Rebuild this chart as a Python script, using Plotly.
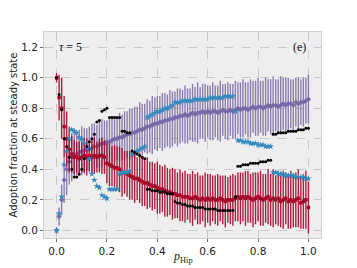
import plotly.graph_objects as go

p_hip = [round(i * 0.01, 2) for i in range(101)]

red_mean = [1.00, 0.87, 0.80, 0.68, 0.60, 0.53, 0.50, 0.48, 0.48, 0.47, 0.48,
            0.49, 0.48, 0.49, 0.48, 0.49, 0.48, 0.49, 0.49, 0.48, 0.44,
            0.43, 0.42, 0.41, 0.41, 0.40, 0.38, 0.38, 0.37, 0.36, 0.35,
            0.34, 0.34, 0.33, 0.32, 0.31, 0.31, 0.30, 0.29, 0.29, 0.28,
            0.27, 0.27, 0.26, 0.25, 0.25, 0.24, 0.24, 0.23, 0.23, 0.22,
            0.22, 0.22, 0.21, 0.21, 0.22, 0.21, 0.20, 0.21, 0.20, 0.21,
            0.20, 0.21, 0.20, 0.20, 0.21, 0.20, 0.19, 0.20, 0.20, 0.20,
            0.21, 0.22, 0.21, 0.22, 0.21, 0.22, 0.21, 0.20, 0.21, 0.22,
            0.21, 0.20, 0.21, 0.22, 0.20, 0.21, 0.20, 0.21, 0.19, 0.20,
            0.21, 0.19, 0.20, 0.19, 0.20, 0.21, 0.18, 0.19, 0.20, 0.15]

red_err = [0.03, 0.15, 0.20, 0.20, 0.18, 0.15, 0.12, 0.11, 0.10, 0.11, 0.10,
           0.11, 0.12, 0.10, 0.11, 0.12, 0.10, 0.11, 0.12, 0.11, 0.13,
           0.14, 0.13, 0.15, 0.14, 0.15, 0.16, 0.14, 0.15, 0.16, 0.15,
           0.16, 0.14, 0.15, 0.16, 0.15, 0.17, 0.15, 0.16, 0.15, 0.17,
           0.16, 0.15, 0.17, 0.16, 0.15, 0.17, 0.16, 0.15, 0.17, 0.16,
           0.17, 0.15, 0.16, 0.18, 0.15, 0.17, 0.16, 0.15, 0.18, 0.16,
           0.17, 0.15, 0.16, 0.17, 0.15, 0.16, 0.17, 0.15, 0.16, 0.17,
           0.15, 0.16, 0.17, 0.16, 0.18, 0.17, 0.16, 0.18, 0.17, 0.16,
           0.18, 0.17, 0.16, 0.18, 0.17, 0.19, 0.16, 0.18, 0.17, 0.19,
           0.17, 0.18, 0.19, 0.17, 0.18, 0.19, 0.17, 0.18, 0.19, 0.17]

purple_mean = [0.00, 0.09, 0.20, 0.33, 0.40, 0.45, 0.48, 0.50, 0.50, 0.51, 0.52,
               0.52, 0.53, 0.53, 0.54, 0.55, 0.55, 0.56, 0.57, 0.57, 0.58,
               0.58, 0.59, 0.60, 0.60, 0.61, 0.61, 0.62, 0.63, 0.63, 0.64,
               0.64, 0.65, 0.66, 0.66, 0.67, 0.68, 0.68, 0.69, 0.70, 0.70,
               0.71, 0.71, 0.72, 0.72, 0.73, 0.73, 0.74, 0.74, 0.75, 0.75,
               0.76, 0.75, 0.76, 0.77, 0.76, 0.77, 0.77, 0.78, 0.77, 0.78,
               0.77, 0.78, 0.78, 0.77, 0.78, 0.79, 0.78, 0.78, 0.79, 0.78,
               0.79, 0.80, 0.79, 0.80, 0.80, 0.79, 0.80, 0.81, 0.80, 0.81,
               0.81, 0.80, 0.81, 0.82, 0.81, 0.82, 0.82, 0.81, 0.82, 0.83,
               0.82, 0.83, 0.83, 0.82, 0.84, 0.83, 0.84, 0.84, 0.85, 0.86]

purple_err = [0.02, 0.06, 0.10, 0.15, 0.17, 0.15, 0.16, 0.15, 0.14, 0.15, 0.16,
              0.15, 0.14, 0.15, 0.16, 0.15, 0.14, 0.15, 0.16, 0.15, 0.14,
              0.15, 0.16, 0.15, 0.14, 0.16, 0.15, 0.16, 0.15, 0.17, 0.16,
              0.17, 0.16, 0.18, 0.17, 0.16, 0.18, 0.17, 0.19, 0.17, 0.18,
              0.17, 0.19, 0.18, 0.17, 0.19, 0.18, 0.17, 0.19, 0.18, 0.17,
              0.19, 0.18, 0.17, 0.19, 0.18, 0.20, 0.17, 0.18, 0.19, 0.17,
              0.18, 0.19, 0.17, 0.18, 0.20, 0.17, 0.18, 0.19, 0.17, 0.18,
              0.19, 0.17, 0.18, 0.19, 0.17, 0.18, 0.19, 0.17, 0.18, 0.19,
              0.17, 0.18, 0.19, 0.17, 0.18, 0.19, 0.17, 0.18, 0.19, 0.17,
              0.18, 0.17, 0.16, 0.17, 0.16, 0.17, 0.15, 0.16, 0.15, 0.16]

blue_vals = [0.00, 0.11, 0.22, 0.43, 0.52, 0.60, 0.66, 0.65, 0.64, 0.61, 0.60,
             0.57, 0.54, 0.47, 0.37, 0.33, 0.29, 0.28, 0.23, 0.22, 0.21,
             0.27, 0.27, 0.27, 0.27, 0.37, 0.38, 0.38, 0.38, 0.39, 0.50,
             0.51, 0.52, 0.53, 0.54, 0.55, 0.74, 0.75, 0.76, 0.77, 0.78,
             0.78, 0.79, 0.80, 0.80, 0.81, 0.82, 0.84, 0.84, 0.84, 0.85,
             0.85, 0.85, 0.85, 0.85, 0.86, 0.86, 0.86, 0.86, 0.86, 0.86,
             0.87, 0.87, 0.87, 0.87, 0.87, 0.87, 0.88, 0.88, 0.88, 0.88,
             0.78, 0.59, 0.59, 0.58, 0.58, 0.58, 0.57, 0.57, 0.57, 0.56,
             0.56, 0.56, 0.55, 0.55, 0.55, 0.38, 0.38, 0.37, 0.37, 0.37,
             0.36, 0.36, 0.36, 0.36, 0.35, 0.35, 0.35, 0.35, 0.34, 0.34]

black_vals = [1.00, 0.89, 0.79, 0.60, 0.55, 0.48, 0.40, 0.35, 0.35, 0.37, 0.40,
              0.47, 0.55, 0.58, 0.60, 0.63, 0.71, 0.72, 0.78, 0.79, 0.80,
              0.74, 0.74, 0.74, 0.74, 0.74, 0.65, 0.65, 0.64, 0.64, 0.52,
              0.51, 0.50, 0.49, 0.48, 0.47, 0.27, 0.27, 0.26, 0.26, 0.26,
              0.25, 0.25, 0.25, 0.24, 0.24, 0.24, 0.19, 0.18, 0.18, 0.17,
              0.17, 0.16, 0.16, 0.16, 0.15, 0.15, 0.15, 0.15, 0.14, 0.14,
              0.14, 0.14, 0.14, 0.13, 0.13, 0.13, 0.13, 0.13, 0.13, 0.13,
              0.22, 0.42, 0.42, 0.43, 0.43, 0.43, 0.44, 0.44, 0.44, 0.44,
              0.45, 0.45, 0.45, 0.46, 0.46, 0.63, 0.63, 0.64, 0.64, 0.64,
              0.64, 0.65, 0.65, 0.65, 0.65, 0.66, 0.66, 0.66, 0.67, 0.67]

x_ticks = [0.0, 0.2, 0.4, 0.6, 0.8, 1.0]
y_ticks = [0.0, 0.2, 0.4, 0.6, 0.8, 1.0, 1.2]

RED = "#A60628"
PURPLE = "#7A68A6"
BLUE = "#348ABD"

fig = go.Figure()
fig.add_trace(go.Scatter(
    x=p_hip, y=purple_mean, mode="markers",
    marker=dict(symbol="diamond", size=4, color=PURPLE),
    error_y=dict(type="data", array=purple_err, color="rgba(122,104,166,0.85)",
                 thickness=1.4, width=0),
    showlegend=False))
fig.add_trace(go.Scatter(
    x=p_hip, y=red_mean, mode="markers",
    marker=dict(symbol="square", size=3.5, color=RED),
    error_y=dict(type="data", array=red_err, color="rgba(166,6,40,0.9)",
                 thickness=1.4, width=0),
    showlegend=False))
fig.add_trace(go.Scatter(
    x=p_hip, y=blue_vals, mode="markers",
    marker=dict(symbol="star", size=5, color=BLUE, line=dict(width=0)),
    showlegend=False))
fig.add_trace(go.Scatter(
    x=p_hip, y=black_vals, mode="markers",
    marker=dict(symbol="circle", size=3, color="black"),
    showlegend=False))

axis_common = dict(showgrid=True, gridcolor="#c8c8c8", griddash="dash", gridwidth=1,
                   zeroline=False, showline=True, mirror=True, linecolor="#d0d0d0",
                   linewidth=1, ticks="outside", ticklen=3, tickcolor="#666",
                   automargin=False,
                   tickfont=dict(family="DejaVu Sans", size=10.5, color="#222"))

# the page body adds an 8px offset, so the figure is drawn slightly smaller
fig.update_layout(
    width=349, height=260,
    margin=dict(l=36, r=36, t=24, b=30),
    paper_bgcolor="white", plot_bgcolor="#eeeeee",
    xaxis=dict(range=[-0.05, 1.05], tickvals=x_ticks, tickformat=".1f",
               **axis_common),
    yaxis=dict(range=[-0.05, 1.3], tickvals=y_ticks, tickformat=".1f",
               title=dict(text="Adoption fraction at steady state", standoff=3,
                          font=dict(family="DejaVu Sans", size=10, color="#222")),
               **axis_common),
    annotations=[
        dict(x=0.5, y=0, xref="x", yref="paper", text="<i>p</i><sub>Hip</sub>",
             showarrow=False, xanchor="center", yanchor="middle", yshift=-19,
             font=dict(family="Liberation Serif", size=12, color="#222")),
        dict(x=0.0, y=1.2, xref="x", yref="y", text="<i>τ</i> = 5", showarrow=False,
             xanchor="left", yanchor="middle",
             font=dict(family="Liberation Serif", size=12, color="#111")),
        dict(x=1.0, y=1.2, xref="x", yref="y", text="(e)", showarrow=False,
             xanchor="right", yanchor="middle",
             font=dict(family="Liberation Serif", size=12, color="#111")),
    ],
)

fig.write_html("out.html")
